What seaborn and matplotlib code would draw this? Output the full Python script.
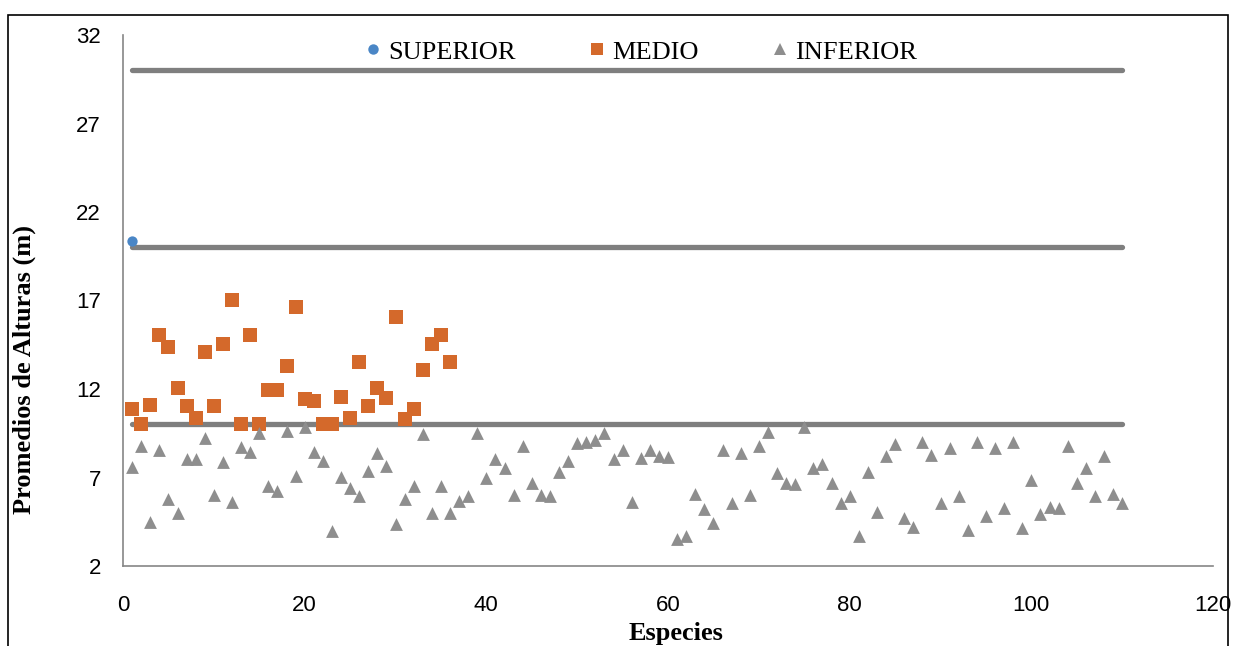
import numpy as np
import pandas as pd
import matplotlib
matplotlib.use("Agg")
import matplotlib.pyplot as plt
from matplotlib.lines import Line2D
from matplotlib.patches import Rectangle
import seaborn as sns

# ---------------- data ----------------
superior_x = [1]
superior_y = [20.36]

medio_y = [10.87, 10.02, 11.10, 15.05, 14.37, 12.06, 11.04, 10.36, 14.09, 11.04,
           14.54, 17.03, 10.02, 15.05, 10.02, 11.94, 11.94, 13.30, 16.63, 11.43,
           11.32, 10.02, 10.02, 11.55, 10.36, 13.53, 11.04, 12.06, 11.49, 16.07,
           10.30, 10.87, 13.07, 14.54, 15.05, 13.53]
medio_x = list(range(1, len(medio_y) + 1))

inferior_y = [7.58, 8.78, 4.50, 8.54, 5.77, 5.01, 8.03, 8.03, 9.21, 6.01,
              7.86, 5.60, 8.71, 8.44, 9.50, 6.54, 6.22, 9.63, 7.08, 9.84,
              8.42, 7.95, 3.99, 7.01, 6.42, 5.97, 7.37, 8.37, 7.65, 4.37,
              5.80, 6.52, 9.46, 5.01, 6.52, 5.01, 5.67, 5.95, 9.50, 6.99,
              8.03, 7.52, 6.01, 8.78, 6.67, 6.01, 5.97, 7.33, 7.95, 8.93,
              9.02, 9.12, 9.50, 8.03, 8.55, 5.63, 8.12, 8.55, 8.23, 8.18,
              3.53, 3.71, 6.07, 5.22, 4.45, 8.55, 5.54, 8.37, 6.01, 8.80,
              9.59, 7.24, 6.71, 6.62, 9.87, 7.52, 7.75, 6.67, 5.54, 5.97,
              3.71, 7.29, 5.03, 8.23, 8.87, 4.69, 4.19, 8.99, 8.27, 5.54,
              8.69, 5.97, 4.03, 9.02, 4.84, 8.69, 5.26, 9.02, 4.13, 6.86,
              4.92, 5.35, 5.29, 8.78, 6.67, 7.52, 5.97, 8.23, 6.05, 5.54]
inferior_x = list(range(1, len(inferior_y) + 1))

limit_levels = [10, 20, 30]
limit_x = [1, 110]

series_names = ["SUPERIOR", "MEDIO", "INFERIOR"]
x_ticks = [0, 20, 40, 60, 80, 100, 120]
y_ticks = [2, 7, 12, 17, 22, 27, 32]
x_label = "Especies"
y_label = "Promedios de Alturas (m)"

# ---------------- styling ----------------
sns.set_theme(style="white")
plt.rcParams["font.family"] = ["Liberation Sans", "DejaVu Sans"]
plt.rcParams["text.color"] = "black"
plt.rcParams["axes.labelcolor"] = "black"

colors = {"SUPERIOR": "#4A86C6", "MEDIO": "#D4692B", "INFERIOR": "#8E8E8E"}
markers = {"SUPERIOR": "o", "MEDIO": "s", "INFERIOR": "^"}
sizes = {"SUPERIOR": 55, "MEDIO": 110, "INFERIOR": 85}
line_color = "#7F7F7F"
spine_color = "#868686"

W, H = 1236, 646
fig = plt.figure(figsize=(W / 100, H / 100), dpi=100)
ax = fig.add_axes([123 / W, (H - 566) / H, 1090 / W, 531 / H])

# reference lines
for lvl in limit_levels:
    ldf = pd.DataFrame({"x": limit_x, "y": [lvl, lvl]})
    sns.lineplot(data=ldf, x="x", y="y", ax=ax, color=line_color, linewidth=3.8,
                 solid_capstyle="round", zorder=2)

frames = [
    pd.DataFrame({"x": superior_x, "y": superior_y, "nivel": "SUPERIOR"}),
    pd.DataFrame({"x": medio_x, "y": medio_y, "nivel": "MEDIO"}),
    pd.DataFrame({"x": inferior_x, "y": inferior_y, "nivel": "INFERIOR"}),
]
for name, df in zip(series_names, frames):
    sns.scatterplot(data=df, x="x", y="y", ax=ax, color=colors[name],
                    marker=markers[name], s=sizes[name], linewidth=0,
                    zorder=3, legend=False)

ax.set_xlim(0, 120)
ax.set_ylim(2, 32)
ax.set_xticks(x_ticks)
ax.set_yticks(y_ticks)
ax.tick_params(axis="both", labelsize=16, colors=spine_color, labelcolor="black",
               direction="out", width=1)
ax.tick_params(axis="y", length=6, pad=10)
ax.tick_params(axis="x", length=6, pad=15)
ax.grid(False)
for side in ["top", "right"]:
    ax.spines[side].set_visible(False)
for side in ["left", "bottom"]:
    ax.spines[side].set_color(spine_color)
    ax.spines[side].set_linewidth(1.2)

ax.set_xlabel(x_label, family="Liberation Serif", fontweight="bold", fontsize=19)
ax.set_ylabel(y_label, family="Liberation Serif", fontweight="bold", fontsize=19)
ax.xaxis.set_label_coords((676 - 123) / 1090, (566 - 622) / 531)
ax.yaxis.set_label_coords((36 - 123) / 1090, (566 - 370) / 531)

handles = [Line2D([0], [0], marker=markers[n], color="none", markerfacecolor=colors[n],
                  markeredgewidth=0, markersize=8 if n != "SUPERIOR" else 7.5)
           for n in series_names]
fig.legend(handles, series_names, loc="center", bbox_to_anchor=(641 / W, (H - 52) / H),
           ncol=3, frameon=False, handlelength=0.6, handletextpad=0.25,
           columnspacing=2.8, labelcolor="black",
           prop={"family": "Liberation Serif", "size": 19})

# outer chart frame
fig.patches.append(Rectangle((8 / W, -0.02), 1220 / W, (H - 15) / H + 0.02,
                             transform=fig.transFigure, fill=False,
                             edgecolor="black", linewidth=1.2))

fig.savefig("out.png", dpi=100)
